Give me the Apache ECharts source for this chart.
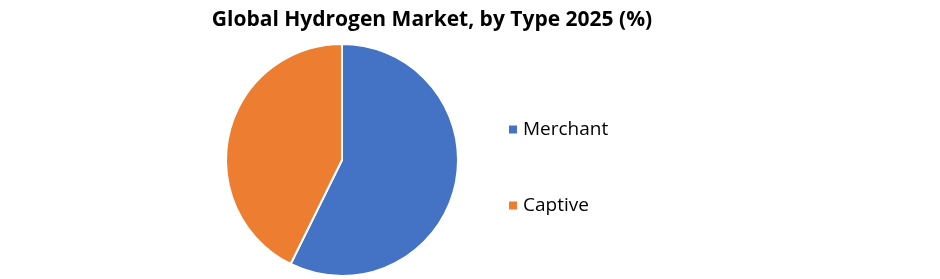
<!DOCTYPE html>
<html><head><meta charset="utf-8">
<script src="https://cdn.jsdelivr.net/npm/echarts@6/dist/echarts.min.js"></script>
<style>html,body{margin:0;padding:0;background:#fff}#c{width:940px;height:279px}</style>
</head><body><div id="c"></div>
<script>
const categories = ["Merchant", "Captive"];
const values = [57.3, 42.7];
const colors = ["#4472C4", "#ED7D31"];
const chart = echarts.init(document.getElementById('c'));
chart.setOption({
  animation: false,
  title: {
    text: "Global Hydrogen Market, by Type 2025 (%)",
    left: 427, top: 5, textAlign: 'center',
    textStyle: {fontFamily: "Open Sans", fontWeight: 'bold', fontSize: 21, color: '#000'}
  },
  legend: {
    orient: 'vertical', left: 502, top: 115, itemGap: 57,
    itemWidth: 10, itemHeight: 10, icon: 'rect',
    textStyle: {fontFamily: "Open Sans", fontSize: 19, color: '#000', padding: [0,0,0,0]},
    data: categories
  },
  series: [{
    type: 'pie', center: [342, 160], radius: 116, startAngle: 90, clockwise: true,
    label: {show: false}, labelLine: {show: false},
    itemStyle: {borderColor: '#fff', borderWidth: 2},
    data: categories.map((n, i) => ({name: n, value: values[i], itemStyle: {color: colors[i]}}))
  }]
});
</script></body></html>
